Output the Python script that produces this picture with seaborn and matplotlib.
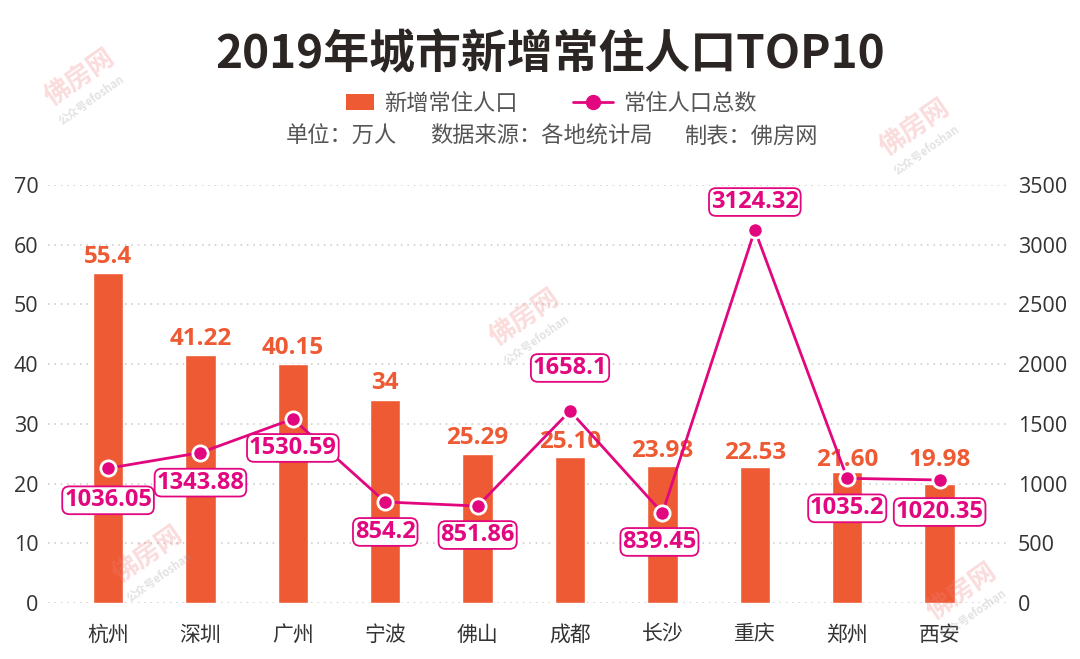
import numpy as np
import pandas as pd
import seaborn as sns
import matplotlib
matplotlib.use("Agg")
import matplotlib.pyplot as plt
from matplotlib.patches import Rectangle, Patch
from matplotlib.lines import Line2D
from matplotlib.legend_handler import HandlerPatch

# ---- data ----
cities = ["杭州", "深圳", "广州", "宁波", "佛山", "成都", "长沙", "重庆", "郑州", "西安"]
new_pop = [55.2, 41.5, 40.1, 34.0, 24.95, 24.45, 22.9, 22.8, 21.9, 19.9]
new_pop_labels = ["55.4", "41.22", "40.15", "34", "25.29", "25.10", "23.98", "22.53", "21.60", "19.98"]
total_pop = [1128, 1259, 1541, 846, 812, 1608, 754, 3123, 1044, 1030]
total_pop_labels = ["1036.05", "1343.88", "1530.59", "854.2", "851.86", "1658.1", "839.45", "3124.32", "1035.2", "1020.35"]
left_ticks = [0, 10, 20, 30, 40, 50, 60, 70]
right_ticks = [0, 500, 1000, 1500, 2000, 2500, 3000, 3500]

# ---- style ----
BAR = "#EE5A34"
LINE = "#E2077F"
sns.set_theme(style="white")
plt.rcParams["font.family"] = ["Open Sans", "Noto Sans CJK SC", "DejaVu Sans"]
CJK = ["Noto Sans CJK SC", "DejaVu Sans"]

W, H = 1080, 659
fig = plt.figure(figsize=(W / 100, H / 100), dpi=100)
ax = fig.add_axes([48 / W, 1 - 603 / H, 960 / W, 418 / H])

df = pd.DataFrame({"city": cities, "new": new_pop, "total": total_pop})
sns.barplot(data=df, x="city", y="new", color=BAR, width=0.33, saturation=1,
            ax=ax, zorder=2)
ax.set_xlim(-0.65, 9.74)
ax.set_ylim(0, 70)
ax.set_yticks(left_ticks)
ax.yaxis.grid(True, linestyle=(0, (1.0, 3.2)), color="#c8c8c8", linewidth=1.1, zorder=0)
ax.xaxis.grid(False)
ax.set_xlabel("")
ax.set_ylabel("")
for s in ax.spines.values():
    s.set_visible(False)
ax.tick_params(axis="both", length=0, colors="#333333")
ax.tick_params(axis="y", labelsize=15.5, pad=7)
ax.tick_params(axis="x", labelsize=15, pad=15)
for t in ax.get_xticklabels():
    t.set_fontfamily(CJK)

# bar labels
bar_off = [16, 16, 16, 17, 16, 15, 15, 14, 12, 24]
for i, (v, lab) in enumerate(zip(new_pop, new_pop_labels)):
    ax.annotate(lab, (i, v), xytext=(0, bar_off[i]), textcoords="offset pixels",
                ha="center", va="center", fontsize=17.5, fontweight="bold",
                color=BAR, zorder=3)

# line on twin axis
ax2 = ax.twinx()
sns.lineplot(x=np.arange(len(cities)), y=total_pop, ax=ax2, color=LINE, linewidth=2,
             marker="o", markersize=11, markerfacecolor=LINE, markeredgecolor="white",
             markeredgewidth=2, zorder=4)
ax2.set_ylim(0, 3500)
ax2.set_yticks(right_ticks)
ax2.set_xlim(-0.65, 9.74)
for s in ax2.spines.values():
    s.set_visible(False)
ax2.tick_params(axis="y", length=0, labelsize=15.5, pad=7, colors="#333333")
ax2.grid(False)

box_off = [(0, -32), (0, -30), (0, -29), (0, -30), (0, -29), (0, 43), (-3, -29), (0, 28), (0, -30), (0, -32)]
for i, (v, lab) in enumerate(zip(total_pop, total_pop_labels)):
    ax2.annotate(lab, (i, v), xytext=box_off[i], textcoords="offset pixels",
                 ha="center", va="center", fontsize=17, fontweight="bold", color=LINE,
                 zorder=6,
                 bbox=dict(boxstyle="round,pad=0.08,rounding_size=0.3", fc="white",
                           ec=LINE, lw=1.3))

# title & subtitle
fig.text(550 / W, 1 - 55 / H, "2019年城市新增常住人口TOP10", ha="center", va="center",
         fontsize=33, fontweight="bold", color="#2b2624", family=CJK)

class RectHandler(HandlerPatch):
    def create_artists(self, legend, orig_handle, xdescent, ydescent, width, height,
                       fontsize, trans):
        w = width * 0.7
        p = Rectangle((-xdescent + width - w, -ydescent), w, height,
                      facecolor=orig_handle.get_facecolor(), edgecolor="none",
                      transform=trans)
        return [p]

handles = [Patch(facecolor=BAR, label="新增常住人口"),
           Line2D([0], [0], color=LINE, lw=2, marker="o", markersize=10,
                  markeredgecolor=LINE, label="常住人口总数")]
leg = fig.legend(handles=handles, loc="center", bbox_to_anchor=(0.505, 1 - 103 / H),
                 ncol=2, frameon=False, fontsize=16, handlelength=1.8,
                 handletextpad=0.45, columnspacing=2.5,
                 handler_map={Patch: RectHandler()},
                 prop={"family": CJK, "size": 16})
for t in leg.get_texts():
    t.set_color("#555555")

sub_y = 1 - 136 / H
fig.text(397 / W, sub_y, "单位：万人", ha="right", va="center", fontsize=16,
         color="#555555", family=CJK)
fig.text(430 / W, sub_y, "数据来源：各地统计局", ha="left", va="center", fontsize=16,
         color="#555555", family=CJK)
fig.text(684 / W, sub_y, "制表：佛房网", ha="left", va="center", fontsize=16,
         color="#555555", family=CJK)

# watermarks
for (x, y) in [(80, 78), (915, 128), (525, 318), (148, 555), (962, 592)]:
    fig.text(x / W, 1 - y / H, "佛房网", ha="center", va="center", fontsize=19,
             fontweight="bold", color="#F08080", alpha=0.28, rotation=35, family=CJK,
             zorder=10)
    fig.text((x + 12) / W, 1 - (y + 22) / H, "公众号efoshan", ha="center", va="center",
             fontsize=8, fontweight="bold", color="#999999", alpha=0.28, rotation=35,
             family=CJK, zorder=10)

fig.savefig("out.png", dpi=100)
